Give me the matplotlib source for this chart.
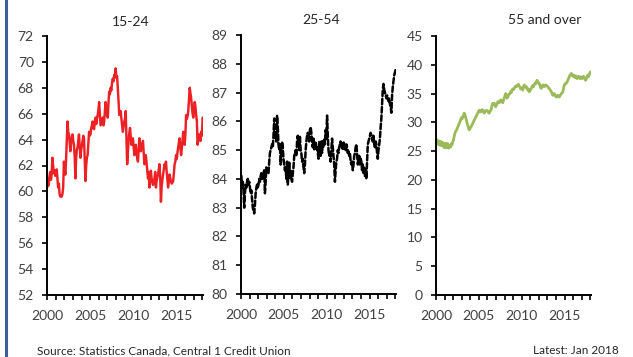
import numpy as np
import matplotlib
matplotlib.use("Agg")
import matplotlib.pyplot as plt
from matplotlib.lines import Line2D

plt.rcParams['font.family'] = ['Lato', 'DejaVu Sans']

# Employment rate by age group, monthly Jan 2000 - Jan 2018 (%)
rate_15_24 = [
    61.0, 60.4, 60.6, 61.2, 61.5, 60.9, 61.3, 62.6, 62.0, 61.4, 61.6, 61.2,
    61.5, 61.7, 61.0, 60.3, 60.6, 59.8, 59.6, 59.7, 59.6, 59.8, 60.3, 62.3,
    61.8, 61.3, 62.4, 63.9, 65.4, 64.6, 64.4, 63.8, 63.1, 63.7, 64.2, 64.4,
    63.9, 63.6, 62.7, 61.0, 62.5, 63.2, 63.4, 63.9, 64.4, 63.5, 62.6, 63.2,
    63.5, 63.9, 64.3, 64.1, 62.5, 60.8, 62.0, 62.6, 62.8, 63.7, 64.6, 64.3,
    64.4, 64.9, 65.1, 65.4, 64.9, 64.8, 65.3, 65.7, 65.2, 65.6, 65.9, 66.3,
    66.9, 66.0, 65.1, 65.3, 65.5, 65.7, 65.1, 65.4, 66.2, 66.9, 66.4, 65.9,
    65.7, 66.8, 67.7, 67.5, 68.0, 67.8, 68.4, 68.7, 68.5, 69.0, 68.8, 69.5,
    68.8, 68.9, 68.0, 67.0, 65.9, 66.0, 66.2, 65.6, 65.1, 64.6, 65.0, 65.4,
    65.6, 66.2, 64.2, 62.1, 63.0, 63.9, 64.5, 64.9, 64.2, 63.6, 63.9, 64.1,
    63.4, 62.8, 63.1, 63.6, 63.0, 62.6, 62.3, 63.2, 64.1, 63.6, 63.1, 63.4,
    63.6, 63.9, 63.0, 62.1, 62.4, 62.8, 62.2, 61.6, 61.0, 61.5, 60.3, 60.9,
    61.6, 61.0, 60.7, 60.5, 60.8, 61.0, 61.5, 60.3, 60.8, 61.1, 61.3, 61.7,
    62.1, 61.0, 59.2, 60.4, 60.9, 61.3, 61.7, 62.1, 61.8, 62.3, 61.5, 60.9,
    60.3, 60.8, 61.3, 61.0, 60.8, 60.6, 60.7, 60.8, 61.4, 62.1, 62.3, 62.8,
    62.5, 63.0, 63.4, 63.8, 64.1, 63.4, 62.8, 63.3, 63.9, 64.6, 64.1, 63.6,
    64.4, 65.9, 65.6, 65.8, 66.2, 67.1, 68.0, 67.6, 67.2, 66.6, 66.0, 65.7,
    66.3, 66.9, 66.5, 65.9, 65.4, 63.6, 64.0, 64.4, 64.2, 63.9, 64.6, 64.3,
    65.7,
]

rate_25_54 = [
    84.1, 83.7, 83.9, 83.6, 83.0, 83.5, 83.8, 83.7, 83.9, 84.0, 83.8, 83.9,
    83.7, 83.5, 83.6, 83.3, 83.0, 82.9, 82.8, 83.1, 83.5, 83.7, 83.8, 83.7,
    83.8, 84.0, 83.9, 84.1, 84.2, 84.0, 84.1, 84.2, 84.3, 83.5, 83.9, 84.4,
    84.3, 84.3, 84.2, 84.6, 84.9, 85.0, 85.1, 85.2, 85.1, 85.5, 86.1, 85.4,
    85.6, 85.3, 86.2, 85.8, 85.2, 85.0, 85.2, 84.5, 84.8, 85.3, 85.1, 84.7,
    84.5, 84.3, 84.4, 84.0, 84.6, 83.8, 84.2, 84.6, 84.0, 84.3, 84.0, 83.9,
    84.2, 84.4, 84.8, 84.9, 85.0, 84.8, 85.3, 85.5, 85.2, 85.0, 85.5, 85.0,
    84.9, 84.6, 84.7, 84.4, 84.2, 84.5, 85.0, 85.3, 85.5, 85.6, 85.4, 85.3,
    85.7, 85.8, 85.6, 85.3, 85.1, 85.4, 85.0, 85.2, 85.3, 85.0, 85.1, 84.9,
    84.7, 85.3, 85.0, 84.8, 85.3, 84.9, 85.3, 85.1, 85.4, 85.2, 85.7, 85.4,
    86.2, 85.5, 85.0, 84.8, 84.9, 84.6, 85.0, 85.4, 85.1, 84.8, 84.5, 83.9,
    84.3, 84.6, 84.7, 85.0, 84.9, 85.1, 85.2, 85.3, 85.1, 85.2, 85.0, 85.3,
    85.1, 85.2, 85.0, 85.2, 85.1, 84.9, 85.0, 84.8, 84.9, 84.6, 84.5, 84.6,
    84.3, 84.5, 84.8, 84.9, 85.1, 85.2, 84.9, 84.5, 84.6, 84.8, 84.5, 84.7,
    84.6, 84.3, 84.5, 84.2, 84.4, 84.1, 84.3, 84.0, 84.6, 85.2, 85.3, 85.4,
    85.5, 85.6, 85.5, 85.4, 85.3, 85.5, 85.2, 85.1, 85.3, 85.2, 84.9, 84.7,
    85.0, 85.2, 85.4, 85.8, 86.1, 86.6, 87.1, 87.3, 87.1, 87.0, 86.9, 86.8,
    86.9, 86.8, 86.7, 86.8, 86.6, 86.5, 86.3, 86.9, 87.2, 87.4, 87.6, 87.7,
    87.8,
]

rate_55_over = [
    27.1, 26.6, 26.2, 26.8, 26.4, 26.0, 26.7, 26.3, 25.9, 26.5, 26.2, 25.6,
    25.8, 26.4, 25.6, 25.9, 26.3, 25.5, 25.8, 26.0, 25.7, 26.3, 26.1, 26.6,
    26.9, 27.6, 28.1, 28.4, 28.6, 28.9, 29.2, 29.5, 29.8, 30.1, 30.4, 30.8,
    30.6, 30.9, 31.2, 31.6, 31.3, 30.9, 30.4, 29.9, 29.5, 29.0, 28.7, 28.9,
    29.1, 29.3, 29.6, 29.8, 30.1, 30.4, 30.6, 30.9, 31.1, 31.4, 31.6, 31.9,
    32.1, 31.9, 31.8, 32.0, 32.2, 32.1, 31.8, 31.6, 31.9, 32.0, 32.1, 32.0,
    31.9, 31.7, 31.6, 31.9, 32.1, 32.3, 33.0, 33.3, 33.2, 33.3, 33.0, 32.7,
    33.0, 33.2, 33.6, 33.5, 33.4, 33.7, 33.9, 33.8, 33.5, 33.4, 33.9, 34.2,
    34.6, 35.0, 34.8, 34.2, 34.4, 34.7, 34.9, 35.0, 35.3, 35.2, 35.6, 35.8,
    35.7, 35.9, 36.1, 36.3, 36.2, 36.4, 36.5, 36.6, 36.3, 36.1, 35.8, 35.9,
    36.0, 35.6, 36.1, 36.5, 36.3, 36.1, 36.2, 35.9, 35.6, 35.8, 35.3, 35.5,
    35.7, 35.9, 36.2, 36.4, 36.2, 36.5, 36.8, 36.7, 37.0, 37.3, 37.0, 36.8,
    36.8, 36.4, 36.0, 35.9, 36.3, 36.5, 36.4, 36.2, 36.3, 36.5, 36.4, 36.3,
    36.2, 36.0, 35.9, 35.7, 35.5, 35.3, 35.0, 34.7, 34.8, 35.0, 34.7, 34.5,
    34.4, 34.6, 34.7, 34.5, 34.4, 34.6, 34.8, 35.0, 35.1, 35.3, 35.8, 36.5,
    36.6, 36.8, 36.8, 37.0, 37.3, 37.6, 37.9, 38.2, 38.3, 38.5, 38.2, 38.0,
    38.2, 38.0, 37.8, 38.1, 37.9, 37.6, 37.8, 38.0, 37.7, 37.6, 37.9, 37.8,
    37.6, 37.8, 38.0, 37.8, 37.5, 37.3, 37.6, 37.9, 38.2, 37.9, 38.3, 38.6,
    38.8,
]

panel_titles = ['15-24', '25-54', '55 and over']
year_labels = ['2000', '2005', '2010', '2015']
first_year = 2000

TEXT = '#404040'

fig = plt.figure(figsize=(6.33, 3.57), dpi=100)

# axes rectangles in figure fractions
rects = [
    (47 / 633, 62 / 357, 156 / 633, 259 / 357),
    (241 / 633, 63 / 357, 155 / 633, 259 / 357),
    (436 / 633, 62 / 357, 155 / 633, 259 / 357),
]
series = [rate_15_24, rate_25_54, rate_55_over]
styles = [
    dict(color='#ED2024', lw=1.75, ls='-'),
    dict(color='#000000', lw=1.8, ls=(0, (2.2, 1.1))),
    dict(color='#9BBB59', lw=2.0, ls='-'),
]
ylims = [(52, 72, 2), (80, 89, 1), (0, 45, 5)]
title_x = [131, 321, 545]
title_y = [22, 20, 20]

for rect, vals, st, (lo, hi, step), tx, ty, ttl in zip(
        rects, series, styles, ylims, title_x, title_y, panel_titles):
    ax = fig.add_axes(rect)
    n = len(vals)
    x = np.arange(n) + 0.5
    ax.plot(x, vals, solid_capstyle='round', dash_capstyle='round', **st)

    ax.set_xlim(0, n)
    ax.set_ylim(lo, hi)
    ax.set_yticks(np.arange(lo, hi + step / 2, step))

    ticks = np.arange(0, n, 12)
    ax.set_xticks(ticks)
    labels = []
    for t in ticks:
        yr = first_year + t // 12
        labels.append(str(yr) if str(yr) in year_labels else '')
    ax.set_xticklabels(labels)

    for side in ['top', 'right']:
        ax.spines[side].set_visible(False)
    for side in ['left', 'bottom']:
        ax.spines[side].set_linewidth(1.4)
        ax.spines[side].set_color('black')
    ax.tick_params(axis='both', direction='out', length=3.5, width=1.2,
                   color='black', labelcolor=TEXT, labelsize=10)
    ax.tick_params(axis='y', pad=6)
    ax.tick_params(axis='x', pad=7)

    fig.text(tx / 633, 1 - ty / 357, ttl, ha='center', va='center',
             fontsize=10, color='#262626')

fig.text(37 / 633, 1 - 351 / 357, 'Source: Statistics Canada, Central 1 Credit Union',
         ha='left', va='center', fontsize=8.5, color='#262626')
fig.text(619 / 633, 1 - 351 / 357, 'Latest: Jan 2018',
         ha='right', va='center', fontsize=8.5, color='#262626')

# frame edge on the left
fig.add_artist(Line2D([5.5 / 633, 5.5 / 633], [0, 1], transform=fig.transFigure,
                      color='#3E5C9A', lw=2.2))

fig.savefig('out.png', dpi=100)
